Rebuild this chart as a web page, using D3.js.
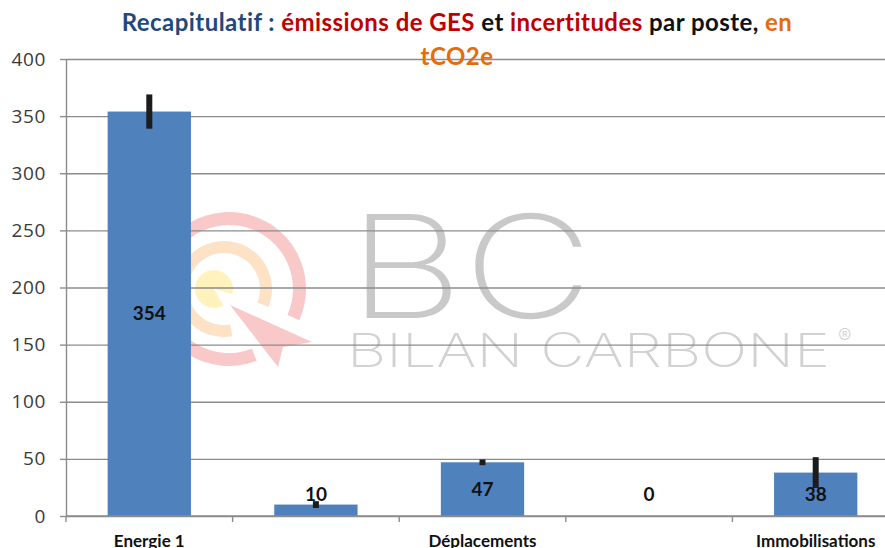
<!DOCTYPE html>
<html>
<head>
<meta charset="utf-8">
<script src="https://cdn.jsdelivr.net/npm/d3@7/dist/d3.min.js"></script>
<style>
  body { margin: 0; background: #fff; }
  svg { display: block; }
</style>
</head>
<body>
<svg id="chart" width="885" height="548"></svg>
<script>
// données du récapitulatif (tCO2e)
const categories    = ["Energie 1", "Intrants", "Déplacements", "Déchets directs", "Immobilisations"];
const values        = [354, 10, 47, 0, 38];
const uncertainties = [15, 3, 2.5, 0, 13.5];
const yTicks        = [0, 50, 100, 150, 200, 250, 300, 350, 400];
const shownLabels   = ["Energie 1", "Déplacements", "Immobilisations"];

const titleLine1 = [
    {t: "Recapitulatif : ", c: "#1f497d"},
    {t: "émissions de GES", c: "#c00000"},
    {t: " et ", c: "#111"},
    {t: "incertitudes", c: "#c00000"},
    {t: " par poste, ", c: "#111"},
    {t: "en", c: "#e46c0a"}
];
const titleLine2 = [{t: "tCO2e", c: "#e46c0a"}];

const W = 885, H = 548;
const svg = d3.select('#chart');

const x = d3.scaleBand().domain(categories).range([66, 899]);
const y = d3.scaleLinear().domain([0, 400]).range([516, 59]);

// filigrane Bilan Carbone
const wm = svg.append('g').attr('class', 'watermark');
const deg = a => a * Math.PI / 180;
wm.append('path')
    .attr('transform', 'translate(229,289)')
    .attr('d', d3.arc().innerRadius(64).outerRadius(77)
        .startAngle(deg(90 + 69)).endAngle(deg(90 + 24 + 360))())
    .attr('fill', '#f9c8c8');
wm.append('path')
    .attr('transform', 'translate(224,289)')
    .attr('d', d3.arc().innerRadius(36).outerRadius(48)
        .startAngle(deg(90 + 80)).endAngle(deg(90 + 22 + 360))())
    .attr('fill', '#fde2c6');
wm.append('path')
    .attr('transform', 'translate(214,289)')
    .attr('d', d3.arc().innerRadius(0).outerRadius(19)
        .startAngle(deg(90 + 60)).endAngle(deg(90 + 15 + 360))())
    .attr('fill', '#fff2bd');
wm.append('path')
    .attr('d', 'M230,305 L312,342 L283,347 L278,367 Z')
    .attr('fill', '#f9c8c8');
wm.append('text')
    .attr('x', 348).attr('y', 318)
    .attr('textLength', 245).attr('lengthAdjust', 'spacingAndGlyphs')
    .style('font-family', 'Inter, "DejaVu Sans", sans-serif')
    .style('font-weight', 250).style('font-size', '143px')
    .attr('fill', '#c9c9c9')
    .text('BC');
wm.append('text')
    .attr('x', 347).attr('y', 367)
    .attr('textLength', 483).attr('lengthAdjust', 'spacingAndGlyphs')
    .style('font-family', 'Inter, "DejaVu Sans", sans-serif')
    .style('font-weight', 200).style('font-size', '47px')
    .attr('fill', '#d2d2d2')
    .text('BILAN CARBONE');
wm.append('text')
    .attr('x', 838).attr('y', 343)
    .style('font-family', 'Inter, "DejaVu Sans", sans-serif')
    .style('font-weight', 300).style('font-size', '20px')
    .attr('fill', '#d2d2d2')
    .text('®');

// grille horizontale
const grid = svg.append('g').attr('transform', 'translate(66,0)')
    .call(d3.axisLeft(y).tickValues(yTicks).tickSize(-(W - 66)).tickFormat(''));
grid.select('.domain').remove();
grid.selectAll('line').attr('stroke', '#8c8c8c').attr('stroke-width', 1.4);

// axe vertical
const yAxis = svg.append('g').attr('transform', 'translate(66,0)')
    .call(d3.axisLeft(y).tickValues(yTicks).tickSize(6).tickPadding(14).tickSizeOuter(0));
yAxis.select('.domain').attr('stroke', '#8c8c8c').attr('stroke-width', 1.4);
yAxis.selectAll('line').attr('stroke', '#8c8c8c').attr('stroke-width', 1.4);
yAxis.selectAll('text')
    .style('font-family', '"Open Sans", sans-serif').style('font-size', '19px')
    .style('letter-spacing', '0.6px')
    .attr('fill', '#3a3a3a');

// barres
svg.append('g').selectAll('rect').data(categories).join('rect')
    .attr('x', d => x(d) + x.bandwidth() * 0.25)
    .attr('width', x.bandwidth() * 0.5)
    .attr('y', (d, i) => y(values[i]))
    .attr('height', (d, i) => y(0) - y(values[i]))
    .attr('fill', '#4f81bd');

// axe horizontal et graduations aux limites des catégories
const xAxis = svg.append('g').attr('transform', `translate(0,${y(0)})`);
xAxis.append('line').attr('x1', 66).attr('x2', W)
    .attr('stroke', '#8c8c8c').attr('stroke-width', 1.4);
xAxis.selectAll('.bound').data(categories.map(c => x(c)))
    .join('line').attr('class', 'bound')
    .attr('x1', d => d).attr('x2', d => d).attr('y1', 0).attr('y2', 6)
    .attr('stroke', '#8c8c8c').attr('stroke-width', 1.4);
xAxis.selectAll('.cat').data(shownLabels).join('text').attr('class', 'cat')
    .attr('x', d => x(d) + x.bandwidth() / 2).attr('y', 31)
    .attr('text-anchor', 'middle')
    .style('font-family', 'Lato, sans-serif').style('font-weight', 700).style('font-size', '17px')
    .attr('fill', '#111')
    .text(d => d);

// barres d'incertitude
svg.append('g').selectAll('rect').data(categories).join('rect')
    .attr('x', d => x(d) + x.bandwidth() / 2 - 3)
    .attr('width', 6)
    .attr('y', (d, i) => y(values[i] + uncertainties[i]))
    .attr('height', (d, i) => y(values[i] - uncertainties[i]) - y(values[i] + uncertainties[i]))
    .attr('fill', '#1c1c1c');

// étiquettes de valeurs
svg.append('g').selectAll('text').data(categories).join('text')
    .attr('x', d => x(d) + x.bandwidth() / 2)
    .attr('y', (d, i) => Math.min((y(values[i]) + y(0)) / 2, y(0) - 22))
    .attr('dy', '0.35em')
    .attr('text-anchor', 'middle')
    .style('font-family', 'Lato, sans-serif').style('font-weight', 700).style('font-size', '19px')
    .attr('fill', '#111')
    .text((d, i) => values[i]);

// titre
const title = svg.append('g')
    .style('font-family', 'Lato, sans-serif').style('font-weight', 700).style('font-size', '24px')
    .style('letter-spacing', '0.45px');
[[titleLine1, 31], [titleLine2, 65]].forEach(([parts, yy]) => {
    const t = title.append('text').attr('x', 457).attr('y', yy).attr('text-anchor', 'middle');
    t.selectAll('tspan').data(parts).join('tspan')
        .attr('fill', d => d.c).style('white-space', 'pre').text(d => d.t);
});
</script>
</body>
</html>
